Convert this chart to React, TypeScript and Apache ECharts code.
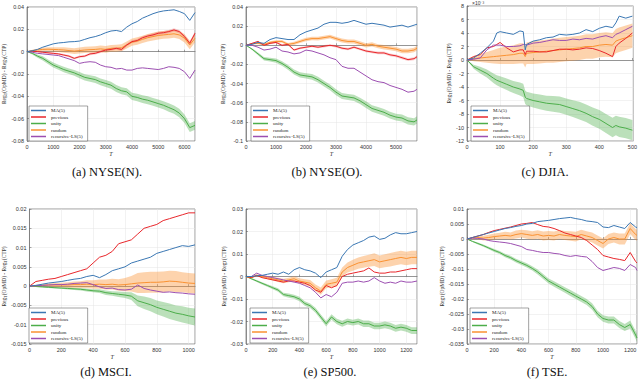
import React, { useEffect, useRef } from 'react';
import * as echarts from 'echarts';

const NAMES = ['MA(5)', 'previous', 'unity', 'random', 'recursive-LS(5)'];
const C_MA = '#3a77b3';
const C_PREV = '#e8262b';
const C_UNITY = '#4cae4a';
const C_RAND = '#fa9232';
const C_RLS = '#9c4fb1';
const B_PREV = 'rgba(232,38,43,0.22)';
const B_UNITY = 'rgba(76,174,74,0.38)';
const B_RAND = 'rgba(250,146,50,0.4)';

const CAPTIONS = ['(a) NYSE(N).', '(b) NYSE(O).', '(c) DJIA.', '(d) MSCI.', '(e) SP500.', '(f) TSE.'];

// ---------- (a) NYSE(N)
const xA = [0,200,400,600,800,1000,1200,1400,1600,1800,2000,2200,2400,2600,2800,3000,3200,3400,3600,3800,4000,4200,4400,4600,4800,5000,5200,5400,5600,5800,6000,6200,6400];
const maA = [0,0.0008,0.002,0.004,0.0055,0.007,0.0078,0.0082,0.0088,0.009,0.0095,0.011,0.0125,0.0135,0.015,0.017,0.0185,0.019,0.018,0.022,0.025,0.027,0.03,0.032,0.034,0.0355,0.0365,0.037,0.0375,0.036,0.034,0.028,0.035];
const prevA = [0,0.0005,0,-0.0005,-0.001,-0.0015,-0.002,-0.003,-0.004,-0.006,-0.0045,-0.004,-0.002,-0.0015,0,0.0015,0.002,0.003,0.002,0.006,0.009,0.01,0.0125,0.014,0.015,0.0165,0.017,0.018,0.0195,0.018,0.0135,0.0075,0.0165];
const prevBandA = [0,0.0004,0.0006,0.0007,0.0008,0.0008,0.0009,0.0009,0.001,0.001,0.001,0.0011,0.0011,0.0011,0.0012,0.0012,0.0012,0.0012,0.0013,0.0013,0.0013,0.0013,0.0014,0.0014,0.0014,0.0014,0.0015,0.0015,0.0015,0.0015,0.0016,0.0016,0.0016];
const unityA = [0,-0.0015,-0.004,-0.006,-0.009,-0.012,-0.014,-0.016,-0.0175,-0.019,-0.021,-0.023,-0.024,-0.025,-0.027,-0.0285,-0.03,-0.033,-0.035,-0.036,-0.04,-0.041,-0.0425,-0.0435,-0.045,-0.0465,-0.048,-0.05,-0.052,-0.055,-0.06,-0.068,-0.066];
const unityBandA = [0,0.001,0.0015,0.0018,0.002,0.0022,0.0023,0.0024,0.0025,0.0026,0.0027,0.0028,0.0029,0.003,0.003,0.0031,0.0031,0.0032,0.0032,0.0033,0.0033,0.0034,0.0034,0.0035,0.0035,0.0036,0.0036,0.0037,0.0037,0.0038,0.0038,0.0039,0.0039];
const randA = [0,0.001,0.0015,0.002,0.0022,0.002,0.0018,0.0015,0.001,0.0005,0.001,0.0015,0.0018,0.002,0.0025,0.002,0.003,0.003,0.0035,0.006,0.0085,0.0095,0.011,0.0125,0.0135,0.0145,0.015,0.0155,0.016,0.015,0.012,0.006,0.012];
const randBandA = [0,0.0008,0.0012,0.0015,0.0018,0.002,0.0022,0.0024,0.0025,0.0026,0.0027,0.0028,0.0028,0.0029,0.003,0.003,0.003,0.0031,0.0031,0.0032,0.0032,0.0033,0.0033,0.0034,0.0034,0.0035,0.0035,0.0036,0.0036,0.0037,0.0037,0.0038,0.0038];
const rlsA = [0,-0.0005,-0.0015,-0.002,-0.0025,-0.003,-0.0035,-0.005,-0.0065,-0.008,-0.0105,-0.0095,-0.009,-0.0095,-0.012,-0.0135,-0.014,-0.0155,-0.015,-0.0165,-0.0165,-0.015,-0.0145,-0.015,-0.0155,-0.016,-0.015,-0.0135,-0.014,-0.015,-0.018,-0.024,-0.0165];

// ---------- (b) NYSE(O)
const xB = [0,200,400,600,800,1000,1200,1400,1600,1800,2000,2200,2400,2600,2800,3000,3200,3400,3600,3800,4000,4200,4400,4600,4800,5000,5200,5400,5600,5700];
const maB = [0,0.001,0.003,0.002,0.006,0.008,0.007,0.006,0.006,0.011,0.014,0.016,0.018,0.022,0.024,0.024,0.023,0.024,0.026,0.024,0.022,0.023,0.022,0.021,0.019,0.02,0.021,0.019,0.021,0.022];
const prevB = [0,0.002,0.004,0,0.002,0.003,0,0.001,-0.005,-0.003,-0.002,-0.001,-0.002,-0.001,0,-0.001,-0.003,-0.004,-0.002,-0.004,-0.006,-0.007,-0.008,-0.008,-0.01,-0.011,-0.013,-0.015,-0.014,-0.012];
const prevBandB = [0,0.0005,0.0007,0.0008,0.0009,0.0009,0.001,0.001,0.001,0.0011,0.0011,0.0011,0.0012,0.0012,0.0012,0.0012,0.0013,0.0013,0.0013,0.0013,0.0014,0.0014,0.0014,0.0014,0.0015,0.0015,0.0015,0.0015,0.0016,0.0016];
const unityB = [0,-0.004,-0.009,-0.014,-0.015,-0.016,-0.019,-0.023,-0.028,-0.031,-0.032,-0.033,-0.036,-0.04,-0.044,-0.049,-0.053,-0.054,-0.055,-0.058,-0.062,-0.066,-0.068,-0.07,-0.073,-0.075,-0.076,-0.079,-0.08,-0.078];
const unityBandB = [0,0.001,0.0015,0.0018,0.002,0.0022,0.0024,0.0025,0.0026,0.0027,0.0028,0.0029,0.003,0.003,0.0031,0.0031,0.0032,0.0032,0.0033,0.0033,0.0034,0.0034,0.0035,0.0035,0.0036,0.0036,0.0037,0.0037,0.0038,0.0038];
const randB = [0,0.0015,0.002,0.001,0.003,0.004,0.004,0.001,0.002,0.004,0.006,0.007,0.007,0.008,0.009,0.007,0.005,0.004,0.004,0.002,0,0.001,-0.001,-0.002,-0.003,-0.004,-0.006,-0.006,-0.005,-0.003];
const randBandB = [0,0.0006,0.0009,0.0011,0.0012,0.0013,0.0014,0.0015,0.0016,0.0017,0.0018,0.0018,0.0019,0.0019,0.002,0.002,0.002,0.0021,0.0021,0.0021,0.0022,0.0022,0.0022,0.0023,0.0023,0.0023,0.0024,0.0024,0.0024,0.0024];
const rlsB = [0,0,-0.002,-0.005,-0.004,-0.002,-0.006,-0.007,-0.009,-0.008,-0.005,-0.006,-0.008,-0.01,-0.013,-0.015,-0.022,-0.024,-0.024,-0.028,-0.032,-0.036,-0.038,-0.039,-0.042,-0.044,-0.046,-0.049,-0.048,-0.046];

// ---------- (c) DJIA (values in units of 1e-3)
const xC = [0,20,40,60,80,90,100,120,140,160,170,176,180,200,220,240,260,280,300,320,340,360,380,400,420,440,450,460,480,500];
const maC = [0,0.3,1.0,1.8,2.8,4.0,4.2,4.0,3.8,4.3,4.2,1.5,2.3,2.8,3.0,3.3,3.4,3.8,3.7,3.8,4.0,4.5,4.2,4.7,5.0,4.8,5.5,6.5,6.2,6.5];
const prevC = [0,0.5,0.8,1.8,2.0,2.3,2.6,1.8,1.2,1.5,1.5,0.8,1.3,1.3,1.2,1.2,1.4,1.6,1.6,1.5,1.6,1.8,1.7,1.4,1.0,0.5,2.0,2.5,3.2,4.0];
const unityC = [0,-1.0,-1.5,-2.0,-2.7,-3.0,-3.2,-3.6,-4.0,-4.3,-4.5,-5.5,-5.7,-6.0,-6.2,-6.4,-6.5,-6.6,-6.9,-7.2,-7.5,-7.9,-8.4,-8.8,-9.4,-10.0,-9.7,-9.9,-10.1,-10.4];
const unityBandC = [0,0.3,0.5,0.6,0.7,0.75,0.8,0.85,0.9,0.95,1.0,1.0,1.0,1.05,1.1,1.1,1.15,1.2,1.2,1.25,1.3,1.3,1.35,1.4,1.4,1.45,1.45,1.5,1.5,1.5];
const randC = [0,0.2,0.3,0.4,0.5,0.55,0.6,0.7,0.8,1.0,1.0,0.5,1.0,1.1,1.2,1.3,1.4,1.5,1.6,1.7,1.8,2.0,2.0,2.2,2.3,2.2,2.8,3.0,3.3,3.6];
const randBandC = [0,0.4,0.6,0.8,1.0,1.1,1.2,1.3,1.4,1.5,1.5,1.6,1.6,1.7,1.7,1.7,1.8,1.8,1.8,1.8,1.8,1.8,1.8,1.8,1.8,1.8,1.8,1.8,1.8,1.8];
const rlsC = [0,0.1,0.3,1.5,2.2,2.2,2.2,2.0,2.0,2.1,2.3,2.3,2.2,2.5,2.6,2.8,3.0,2.9,2.9,3.1,3.0,3.2,3.1,3.4,3.6,3.3,3.8,4.0,4.5,5.0];

// ---------- (d) MSCI
const xD = [0,40,80,120,160,200,240,280,320,360,400,440,480,520,560,600,640,680,720,760,800,840,880,920,960,1000,1040];
const maD = [0,0.0002,0.0005,0.0008,0.001,0.0012,0.0015,0.0018,0.002,0.0025,0.0028,0.0022,0.003,0.004,0.0045,0.005,0.006,0.0065,0.007,0.0075,0.0085,0.009,0.0095,0.01,0.0105,0.0103,0.0107];
const prevD = [0,0.0012,0.0015,0.0018,0.002,0.0025,0.003,0.0035,0.004,0.0045,0.006,0.0075,0.008,0.009,0.011,0.0115,0.012,0.0135,0.015,0.0155,0.016,0.017,0.0175,0.018,0.0185,0.019,0.019];
const unityD = [0,-0.0001,-0.0002,-0.0003,-0.0004,-0.0005,-0.0006,-0.0007,-0.0008,-0.001,-0.0012,-0.0013,-0.0017,-0.0019,-0.0021,-0.0023,-0.0026,-0.0038,-0.0043,-0.0048,-0.0055,-0.006,-0.0065,-0.007,-0.0073,-0.0077,-0.008];
const unityBandD = [0,0.0001,0.0001,0.0002,0.0002,0.0002,0.0003,0.0003,0.0003,0.0004,0.0004,0.0005,0.0006,0.0006,0.0007,0.0008,0.001,0.0014,0.0016,0.0017,0.0018,0.0019,0.002,0.002,0.0021,0.0021,0.0022];
const randD = [0,0.0001,0.0002,0.0003,0.0003,0.0003,0.0003,0.0004,0.0004,0.0005,0.0004,0.0005,0.0004,0.0005,0.0003,0.0004,0.0006,0.0008,0.0009,0.001,0.001,0.0011,0.0013,0.0012,0.001,0.0008,0.0007];
const randBandD = [0,0.0002,0.0003,0.0004,0.0005,0.0006,0.0007,0.0008,0.0009,0.001,0.0011,0.0012,0.0013,0.0014,0.0015,0.0017,0.002,0.0026,0.0027,0.0027,0.0027,0.0027,0.0027,0.0027,0.0026,0.0026,0.0026];
const rlsD = [0,0.0001,0.0002,0.0003,0.0004,0.0004,0.0005,0.0007,0.0008,0.0009,0.0004,-0.0002,-0.0006,-0.0005,-0.0009,-0.001,-0.0008,0.0003,-0.0006,-0.001,-0.0013,-0.0016,-0.0015,-0.0017,-0.0018,-0.002,-0.0021];

// ---------- (e) SP500
const xE = [0,40,80,120,160,200,240,280,320,360,400,440,480,520,560,600,640,680,720,760,800,840,880,920,960,1000,1040,1080,1120,1160,1200,1240,1280];
const maE = [0,0,0.0003,0.0005,0.001,0.0015,0.001,0.002,0.001,0.003,0.004,0.003,0.0025,0.0015,-0.0005,0.002,0.003,0.004,0.009,0.012,0.014,0.015,0.016,0.0175,0.018,0.0165,0.017,0.0185,0.0195,0.019,0.019,0.0195,0.02];
const prevE = [0,-0.0005,0.0005,-0.0005,-0.001,-0.0015,-0.002,-0.0025,-0.002,-0.002,-0.0025,-0.003,-0.004,-0.006,-0.007,-0.004,-0.005,-0.004,0,0.001,0.0015,0.002,0.0025,0.0038,0.002,0.0015,0.0015,0.002,0.002,0.0025,0.003,0.0035,0.0035];
const unityE = [0,-0.001,-0.002,-0.003,-0.004,-0.005,-0.006,-0.008,-0.0085,-0.009,-0.01,-0.012,-0.013,-0.015,-0.018,-0.021,-0.018,-0.02,-0.021,-0.02,-0.0205,-0.02,-0.021,-0.021,-0.022,-0.022,-0.0215,-0.022,-0.023,-0.0225,-0.023,-0.024,-0.024];
const unityBandE = [0,0.0003,0.0004,0.0005,0.0006,0.0007,0.0008,0.0008,0.0009,0.0009,0.001,0.001,0.001,0.0011,0.0011,0.0012,0.0012,0.0012,0.0013,0.0013,0.0013,0.0013,0.0014,0.0014,0.0014,0.0014,0.0015,0.0015,0.0015,0.0015,0.0015,0.0015,0.0015];
const randE = [0,-0.0005,0.0005,0,-0.0005,-0.001,-0.0015,-0.002,-0.0015,-0.001,-0.002,-0.0025,-0.003,-0.005,-0.0065,-0.0035,-0.003,-0.0025,0.002,0.004,0.005,0.006,0.0065,0.007,0.0075,0.0065,0.007,0.0075,0.008,0.0085,0.008,0.0085,0.0085];
const randBandE = [0,0.0003,0.0005,0.0006,0.0007,0.0008,0.0009,0.001,0.001,0.0011,0.0012,0.0013,0.0014,0.0015,0.0016,0.0017,0.0018,0.0019,0.002,0.0022,0.0024,0.0025,0.0026,0.0027,0.0028,0.0028,0.0029,0.003,0.003,0.003,0.003,0.003,0.003];
const rlsE = [0,0,0.0015,0.0005,0,-0.0005,-0.001,-0.0015,-0.002,-0.0025,-0.003,-0.004,-0.005,-0.007,-0.0095,-0.008,-0.009,-0.007,-0.003,-0.0025,-0.0025,-0.002,-0.0025,-0.002,-0.0005,-0.002,-0.003,-0.0025,-0.003,-0.002,-0.0025,-0.0025,-0.002];

// ---------- (f) TSE
const xF = [0,40,80,120,160,200,240,280,320,360,400,440,480,520,560,600,640,680,720,760,800,840,880,920,960,1000,1040,1080,1120,1160,1200,1240,1250];
const maF = [0,0.0005,0.001,0.0015,0.002,0.0025,0.003,0.0035,0.0038,0.0042,0.0045,0.005,0.0052,0.0058,0.006,0.0062,0.0065,0.0068,0.007,0.0072,0.0068,0.0065,0.006,0.0058,0.0055,0.004,0.0038,0.0045,0.004,0.0035,0.0055,0.004,0.0038];
const prevF = [0,0.0005,0.001,0.0015,0.0022,0.0028,0.0032,0.0036,0.004,0.0045,0.005,0.0052,0.0055,0.0048,0.0042,0.004,0.0035,0.0028,0.002,0.0015,0.001,0.0005,-0.0005,-0.002,-0.0035,-0.0055,-0.006,-0.0065,-0.0068,-0.0072,-0.0045,-0.0075,-0.008];
const unityF = [0,-0.0008,-0.0015,-0.0022,-0.003,-0.0038,-0.0045,-0.0055,-0.0062,-0.0072,-0.008,-0.0088,-0.0098,-0.011,-0.0125,-0.014,-0.015,-0.016,-0.017,-0.018,-0.019,-0.02,-0.021,-0.0225,-0.025,-0.0265,-0.027,-0.027,-0.0285,-0.0295,-0.0285,-0.032,-0.033];
const unityBandF = [0,0.0002,0.0003,0.0004,0.0004,0.0005,0.0005,0.0006,0.0006,0.0006,0.0007,0.0007,0.0007,0.0008,0.0008,0.0008,0.0009,0.0009,0.0009,0.001,0.001,0.001,0.001,0.0011,0.0011,0.0011,0.0012,0.0012,0.0012,0.0012,0.0013,0.0013,0.0013];
const randF = [0,0.0003,0.0005,0.0003,0.0005,0.0008,0.001,0.0012,0.001,0.0015,0.0018,0.0015,0.0012,0.0015,0.001,0.0012,0.001,0.0015,0.0012,0.001,0.0008,0.0015,0.001,0.0005,-0.0005,-0.0015,0,0.0005,0,0,0.0035,0.0015,0.0012];
const randBandF = [0,0.0004,0.0006,0.0008,0.0009,0.001,0.0011,0.0012,0.0012,0.0013,0.0013,0.0014,0.0014,0.0014,0.0015,0.0015,0.0015,0.0015,0.0015,0.0016,0.0016,0.0016,0.0016,0.0017,0.0017,0.0017,0.0017,0.0017,0.0018,0.0018,0.0018,0.0018,0.0018];
const rlsF = [0,0.0003,0.0002,0,-0.0005,-0.0008,-0.001,-0.0012,-0.0015,-0.002,-0.0025,-0.0035,-0.0038,-0.0042,-0.0045,-0.0045,-0.0048,-0.005,-0.0055,-0.0058,-0.0055,-0.0058,-0.006,-0.0075,-0.0095,-0.0105,-0.01,-0.0095,-0.0098,-0.0105,-0.0085,-0.0095,-0.0105];

// axis ranges
const X_MAX = [6400, 5700, 503, 1040, 1280, 1250];
const X_INT = [1000, 1000, 100, 200, 200, 200];
const Y_MIN = [-0.08, -0.1, -12, -0.015, -0.03, -0.035];
const Y_MAX = [0.04, 0.04, 8, 0.02, 0.03, 0.01];
const Y_INT = [0.02, 0.02, 2, 0.005, 0.01, 0.005];

const PANELS = [
  { xs: xA, ma: maA, prev: prevA, prevBand: prevBandA, unity: unityA, unityBand: unityBandA, rand: randA, randBand: randBandA, rls: rlsA },
  { xs: xB, ma: maB, prev: prevB, prevBand: prevBandB, unity: unityB, unityBand: unityBandB, rand: randB, randBand: randBandB, rls: rlsB },
  { xs: xC, ma: maC, prev: prevC, prevBand: null, unity: unityC, unityBand: unityBandC, rand: randC, randBand: randBandC, rls: rlsC },
  { xs: xD, ma: maD, prev: prevD, prevBand: null, unity: unityD, unityBand: unityBandD, rand: randD, randBand: randBandD, rls: rlsD },
  { xs: xE, ma: maE, prev: prevE, prevBand: null, unity: unityE, unityBand: unityBandE, rand: randE, randBand: randBandE, rls: rlsE },
  { xs: xF, ma: maF, prev: prevF, prevBand: null, unity: unityF, unityBand: unityBandF, rand: randF, randBand: randBandF, rls: rlsF },
];

const LAYOUT = [
  { left: 25, top: 7, width: 170, height: 134, nameGap: 20, lgL: 29, lgT: 106, capX: 107, capY: 172 },
  { left: 246, top: 7, width: 171, height: 134, nameGap: 20, lgL: 251, lgT: 106, capX: 327, capY: 172 },
  { left: 467, top: 6, width: 170, height: 135, nameGap: 11, lgL: 471, lgT: 106, capX: 545, capY: 172 },
  { left: 25, top: 209, width: 170, height: 135, nameGap: 19, lgL: 29, lgT: 308, capX: 106, capY: 372 },
  { left: 246, top: 209, width: 171, height: 135, nameGap: 19, lgL: 250, lgT: 308, capX: 330, capY: 372 },
  { left: 467, top: 209, width: 170, height: 135, nameGap: 20, lgL: 470, lgT: 308, capX: 547, capY: 372 },
];

const FONT = '"Liberation Sans", Arial, sans-serif';

// confidence band drawn as one polygon through the axes' own coordinate system
function band(ax: number, xs: number[], c: number[], h: number[], color: string) {
  const data = xs.map((x, i) => [x, c[i] - h[i], c[i] + h[i]]);
  return {
    type: 'custom', xAxisIndex: ax, yAxisIndex: ax, silent: true, z: 1, clip: true,
    data,
    renderItem: (params: any, api: any) => {
      if (params.dataIndex !== 0) return null;
      const up = data.map((d) => api.coord([d[0], d[2]]));
      const lo = data.map((d) => api.coord([d[0], d[1]])).reverse();
      return { type: 'polygon', shape: { points: up.concat(lo) }, style: { fill: color, stroke: 'none' } };
    },
  };
}

function line(name: string, ax: number, xs: number[], ys: number[], color: string, width = 1) {
  return {
    type: 'line', name, xAxisIndex: ax, yAxisIndex: ax, symbol: 'none', z: 3,
    data: xs.map((x, i) => [x, ys[i]]),
    lineStyle: { color, width }, itemStyle: { color },
  };
}

function buildOption() {
  const grid: any[] = [], xAxis: any[] = [], yAxis: any[] = [], series: any[] = [], legend: any[] = [], graphic: any[] = [];
  PANELS.forEach((p, i) => {
    const L = LAYOUT[i];
    grid.push({ left: L.left, top: L.top, width: L.width, height: L.height, show: true, borderColor: '#555', borderWidth: 0.6, backgroundColor: '#fff' });
    xAxis.push({
      type: 'value', gridIndex: i, min: 0, max: X_MAX[i], interval: X_INT[i],
      name: 'T', nameLocation: 'middle', nameGap: 10,
      nameTextStyle: { fontSize: 6, fontStyle: 'italic', fontFamily: '"Liberation Serif", serif', color: '#333' },
      axisLine: { show: true, lineStyle: { color: '#555', width: 0.6 } },
      axisTick: { show: true, inside: true, length: 2, lineStyle: { color: '#555', width: 0.5 } },
      axisLabel: { fontSize: 5.5, color: '#333', margin: 3, fontFamily: FONT, showMaxLabel: false, formatter: (v: number) => String(v) },
      splitLine: { show: true, lineStyle: { color: '#e4e4e4', width: 0.5 } },
    });
    yAxis.push({
      type: 'value', gridIndex: i, min: Y_MIN[i], max: Y_MAX[i], interval: Y_INT[i],
      name: 'Reg{s|T}(OpMD) - Reg{s|T}(CTP)', nameLocation: 'middle', nameGap: L.nameGap,
      nameTextStyle: { fontSize: 5.5, color: '#333', fontFamily: '"Liberation Serif", serif', rich: { s: { fontSize: 4, verticalAlign: 'bottom', fontFamily: '"Liberation Serif", serif', color: '#333' } } },
      axisLine: { show: true, lineStyle: { color: '#555', width: 0.6 } },
      axisTick: { show: true, inside: true, length: 2, lineStyle: { color: '#555', width: 0.5 } },
      axisLabel: { fontSize: 5.5, color: '#333', margin: 3, fontFamily: FONT },
      splitLine: { show: true, lineStyle: { color: '#e4e4e4', width: 0.5 } },
    });
    series.push(band(i, p.xs, p.unity, p.unityBand, B_UNITY));
    series.push(band(i, p.xs, p.rand, p.randBand, B_RAND));
    if (p.prevBand) series.push(band(i, p.xs, p.prev, p.prevBand, B_PREV));
    series.push(line(NAMES[2], i, p.xs, p.unity, C_UNITY));
    series.push(line(NAMES[3], i, p.xs, p.rand, C_RAND));
    series.push(line(NAMES[1], i, p.xs, p.prev, C_PREV));
    series.push(line(NAMES[4], i, p.xs, p.rls, C_RLS));
    series.push(line(NAMES[0], i, p.xs, p.ma, C_MA));
    legend.push({
      data: NAMES.map((n) => ({ name: n, icon: 'rect' })), left: L.lgL, top: L.lgT, orient: 'vertical',
      itemWidth: 15, itemHeight: 1.5, itemGap: 1.5, padding: [2, 5, 2, 2],
      backgroundColor: '#fff', borderColor: '#444', borderWidth: 0.5, borderRadius: 0,
      textStyle: { fontSize: 5, lineHeight: 4.6, color: '#222', fontFamily: '"Liberation Serif", serif' },
      selectedMode: false,
    });
    graphic.push({
      type: 'text', x: L.capX, y: L.capY,
      style: { text: CAPTIONS[i], fontSize: 12.5, fontFamily: '"Liberation Serif", "DejaVu Serif", serif', fill: '#111', align: 'center', verticalAlign: 'middle' },
    });
  });
  graphic.push({
    type: 'text', x: 472, y: 3,
    style: { text: '×10⁻³', fontSize: 5, fontFamily: FONT, fill: '#333', align: 'left', verticalAlign: 'middle' },
  });
  return { animation: false, backgroundColor: '#fff', textStyle: { fontFamily: FONT }, grid, xAxis, yAxis, series, legend, graphic };
}

export default function App() {
  const ref = useRef<HTMLDivElement>(null);
  useEffect(() => {
    if (!ref.current) return;
    const chart = echarts.init(ref.current, undefined, { renderer: 'svg' });
    chart.setOption(buildOption() as any);
    return () => chart.dispose();
  }, []);
  return <div ref={ref} style={{ position: 'absolute', left: 0, top: 0, width: 640, height: 382 }} />;
}
